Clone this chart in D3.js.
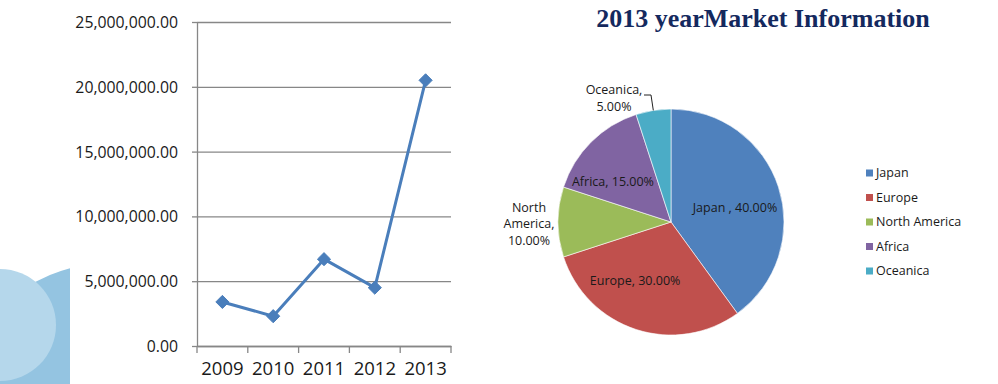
<!DOCTYPE html>
<html>
<head>
<meta charset="utf-8">
<script src="https://cdn.jsdelivr.net/npm/d3@7"></script>
<style>
    body { margin: 0; background: #ffffff; }
    svg { display: block; }
    .axis text, .label, .legend text { font-family: "Open Sans", "Noto Sans", sans-serif; fill: #1a1a1a; }
</style>
</head>
<body>
<svg id="chart" width="998" height="384"></svg>
<script>

// Yearly values for the line chart
var years = ["2009", "2010", "2011", "2012", "2013"];
var sales = [3400000, 2300000, 6700000, 4500000, 20500000];
var yTicks = [0, 5000000, 10000000, 15000000, 20000000, 25000000];

// Market share for 2013
var regions = ["Japan", "Europe", "North America", "Africa", "Oceanica"];
var shares = [40, 30, 10, 15, 5];
var regionColours = ["#4f81bd", "#c0504d", "#9bbb59", "#8064a2", "#4bacc6"];

var svg = d3.select("#chart");

// Background decoration in the bottom-left corner
var deco = svg.append("g");
deco.append("clipPath")
    .attr("id", "decoClip")
    .append("rect")
    .attr("x", 0).attr("y", 200).attr("width", 70).attr("height", 184);
deco.append("circle")
    .attr("clip-path", "url(#decoClip)")
    .attr("cx", 110).attr("cy", 420).attr("r", 157)
    .attr("fill", "#94c4e1");
deco.append("circle")
    .attr("clip-path", "url(#decoClip)")
    .attr("cx", 0).attr("cy", 325).attr("r", 56)
    .attr("fill", "#b5d7eb");

// ---- Line chart ----
var padding = { top: 22, left: 197, right: 451, bottom: 346 };

var xScale = d3.scaleBand()
    .domain(years)
    .range([padding.left, padding.right]);

var yScale = d3.scaleLinear()
    .domain([0, 25000000])
    .range([padding.bottom, padding.top]);

var fmt = d3.format(",.2f");

// Horizontal gridlines
svg.append("g")
    .attr("transform", `translate(${padding.left}, 0)`)
    .call(d3.axisLeft(yScale)
        .tickValues(yTicks)
        .tickSize(-(padding.right - padding.left))
        .tickFormat(""))
    .call(function(g) {
        g.select(".domain").remove();
        g.selectAll("line").attr("stroke", "#878787").attr("stroke-width", 1.3);
    });

// y-axis
svg.append("g")
    .attr("class", "axis")
    .attr("transform", `translate(${padding.left}, 0)`)
    .call(d3.axisLeft(yScale)
        .tickValues(yTicks)
        .tickSize(5)
        .tickSizeOuter(0)
        .tickPadding(14)
        .tickFormat(fmt))
    .call(function(g) {
        g.select(".domain").attr("stroke", "#878787").attr("stroke-width", 1.3);
        g.selectAll("line").attr("stroke", "#878787").attr("stroke-width", 1.3);
        g.selectAll("text").attr("font-size", 15.8).attr("dy", "0.35em");
    });

// x-axis
var xAxis = svg.append("g")
    .attr("class", "axis")
    .attr("transform", `translate(0, ${padding.bottom})`)
    .call(d3.axisBottom(xScale).tickSize(0).tickPadding(15))
    .call(function(g) {
        g.select(".domain").attr("stroke", "#878787").attr("stroke-width", 1.3);
        g.selectAll("text").attr("font-size", 18.5).attr("dy", "0.75em");
    });

// Tick marks between the categories
xAxis.selectAll(".sep")
    .data(years.concat(["end"]))
    .enter()
    .append("line")
    .attr("class", "sep")
    .attr("x1", function(d, i) { return padding.left + i * xScale.bandwidth(); })
    .attr("x2", function(d, i) { return padding.left + i * xScale.bandwidth(); })
    .attr("y1", 0)
    .attr("y2", 7)
    .attr("stroke", "#878787")
    .attr("stroke-width", 1.3);

var points = years.map(function(year, i) {
    return { year: year, value: sales[i] };
});

var line = d3.line()
    .x(function(d) { return xScale(d.year) + xScale.bandwidth() / 2; })
    .y(function(d) { return yScale(d.value); });

svg.append("path")
    .datum(points)
    .attr("d", line)
    .attr("fill", "none")
    .attr("stroke", "#4a7ebb")
    .attr("stroke-width", 3)
    .attr("stroke-linejoin", "round");

svg.selectAll(".marker")
    .data(points)
    .enter()
    .append("path")
    .attr("class", "marker")
    .attr("d", d3.symbol().type(d3.symbolDiamond2).size(110))
    .attr("transform", function(d) {
        return `translate(${xScale(d.year) + xScale.bandwidth() / 2}, ${yScale(d.value)})`;
    })
    .attr("fill", "#4a7ebb")
    .attr("stroke", "#4a7ebb")
    .attr("stroke-width", 1);

// ---- Pie chart ----
svg.append("text")
    .attr("x", 763)
    .attr("y", 27)
    .attr("text-anchor", "middle")
    .attr("font-family", "'Liberation Serif', 'Times New Roman', serif")
    .attr("font-weight", "bold")
    .attr("font-size", 26)
    .attr("fill", "#14295e")
    .text("2013 yearMarket Information");

var pieCx = 671, pieCy = 222, radius = 113;

var pieData = d3.pie().sort(null)(shares);

var arc = d3.arc().innerRadius(0).outerRadius(radius);

var pie = svg.append("g")
    .attr("transform", `translate(${pieCx}, ${pieCy})`);

pie.selectAll(".slice")
    .data(pieData)
    .enter()
    .append("path")
    .attr("class", "slice")
    .attr("d", arc)
    .attr("fill", function(d, i) { return regionColours[i]; })
    .attr("stroke", "#ffffff")
    .attr("stroke-width", 0.6);

// Data labels, placed by angle and radius from the pie centre
var labelLines = [
    ["Japan , 40.00%"],
    ["Europe, 30.00%"],
    ["North", "America,", "10.00%"],
    ["Africa, 15.00%"],
    ["Oceanica,", "5.00%"]
];
var labelRadius = [0.58, 0.61, 1.257, 0.624, 1.208];
var labelAngleShift = [0.098, 0.234, -0.014, -0.182, -0.274];

pie.selectAll(".label")
    .data(pieData)
    .enter()
    .append("text")
    .attr("class", "label")
    .attr("text-anchor", "middle")
    .attr("font-size", 12.5)
    .each(function(d, i) {
        var a = (d.startAngle + d.endAngle) / 2 + labelAngleShift[i];
        var r = radius * labelRadius[i];
        var x = Math.sin(a) * r;
        var y = -Math.cos(a) * r;
        var lines = labelLines[i];
        var lh = 16.5;
        var text = d3.select(this);
        lines.forEach(function(l, j) {
            text.append("tspan")
                .attr("x", x)
                .attr("y", y + (j - (lines.length - 1) / 2) * lh)
                .attr("dy", "0.35em")
                .text(l);
        });
    });

// Leader line for the small Oceanica slice
var oceanica = pieData[4];
var ocA = (oceanica.startAngle + oceanica.endAngle) / 2;
pie.append("polyline")
    .attr("points", [
        [-27, -127],
        [-20, -127],
        [Math.sin(ocA) * radius, -Math.cos(ocA) * radius]
    ].join(" "))
    .attr("fill", "none")
    .attr("stroke", "#222222")
    .attr("stroke-width", 1);

// Legend
var legend = svg.append("g")
    .attr("class", "legend")
    .attr("transform", "translate(866, 173)");

var rows = legend.selectAll("g")
    .data(regions)
    .enter()
    .append("g")
    .attr("transform", function(d, i) { return `translate(0, ${i * 24.5})`; });

rows.append("rect")
    .attr("x", 0).attr("y", -3.5)
    .attr("width", 7).attr("height", 7)
    .attr("fill", function(d, i) { return regionColours[i]; });

rows.append("text")
    .attr("x", 10)
    .attr("dy", "0.35em")
    .attr("font-size", 12.5)
    .text(function(d) { return d; });

</script>
</body>
</html>
